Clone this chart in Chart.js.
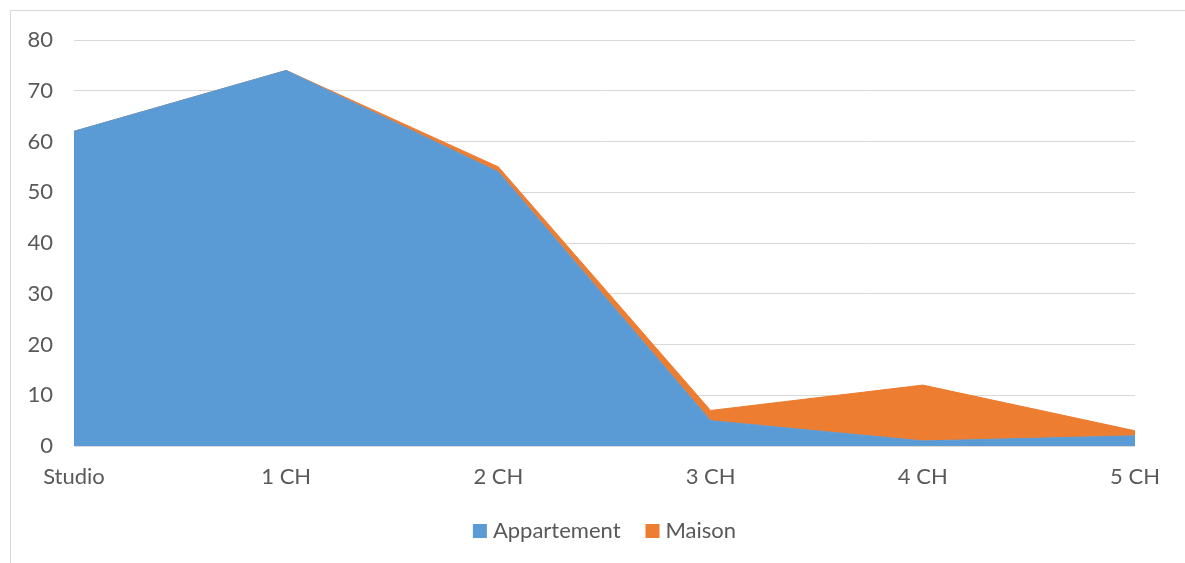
<!DOCTYPE html>
<html>
<head>
<meta charset="utf-8">
<script src="https://cdn.jsdelivr.net/npm/chart.js@4.4.1/dist/chart.umd.min.js"></script>
<style>
  html, body { margin: 0; padding: 0; background: #fff; overflow: hidden; }
  #wrap { position: relative; width: 1185px; height: 563px; }
  #frame { position: absolute; left: 10px; top: 10px; width: 1200px; height: 600px; border: 1px solid #d9d9d9; box-sizing: border-box; }
  canvas { position: absolute; left: 0; top: 0; }
</style>
</head>
<body>
<div id="wrap">
  <div id="frame"></div>
  <canvas id="chart" width="1185" height="563"></canvas>
</div>
<script>
// Logements par nombre de chambres
const categories = ['Studio', '1 CH', '2 CH', '3 CH', '4 CH', '5 CH'];
const appartement = [62, 74, 54, 5, 1, 2];
const maison = [0, 0, 1, 2, 11, 1];
const yTicks = [0, 10, 20, 30, 40, 50, 60, 70, 80];

const FONT = 'Lato, "Open Sans", sans-serif';
const TEXT = '#595959';

// Legend centred under the plot area: square swatch, small gap, label
const plotLegend = {
  id: 'plotLegend',
  afterDraw(chart) {
    const ctx = chart.ctx;
    const area = chart.chartArea;
    const box = 14, gap = 6, itemGap = 25;
    ctx.save();
    ctx.font = '22px ' + FONT;
    const items = chart.data.datasets.map(ds => ({
      label: ds.label,
      color: ds.backgroundColor,
      w: ctx.measureText(ds.label).width
    }));
    const total = items.reduce((s, it) => s + box + gap + it.w, 0) + itemGap * (items.length - 1);
    let x = (area.left + area.right) / 2 - total / 2;
    const cy = 531;
    ctx.textBaseline = 'middle';
    ctx.textAlign = 'left';
    items.forEach(it => {
      ctx.fillStyle = it.color;
      ctx.fillRect(x, cy - box / 2, box, box);
      ctx.fillStyle = TEXT;
      ctx.fillText(it.label, x + box + gap, cy);
      x += box + gap + it.w + itemGap;
    });
    ctx.restore();
  }
};

new Chart(document.getElementById('chart'), {
  type: 'line',
  data: {
    labels: categories,
    datasets: [
      {
        label: 'Appartement',
        data: appartement,
        backgroundColor: '#5B9BD5',
        borderColor: '#5B9BD5',
        borderWidth: 1,
        fill: 'origin',
        pointRadius: 0,
        tension: 0
      },
      {
        label: 'Maison',
        data: maison,
        backgroundColor: '#ED7D31',
        borderColor: '#ED7D31',
        borderWidth: 1,
        fill: '-1',
        pointRadius: 0,
        tension: 0
      }
    ]
  },
  plugins: [plotLegend],
  options: {
    responsive: false,
    animation: false,
    layout: { padding: { left: 0, right: 50, top: 40, bottom: 53 } },
    plugins: {
      tooltip: { enabled: false },
      legend: { display: false }
    },
    scales: {
      x: {
        offset: false,
        grid: { display: false, drawTicks: false },
        border: { display: false },
        ticks: {
          color: TEXT,
          font: { family: FONT, size: 22 },
          padding: 18,
          maxRotation: 0,
          autoSkip: false
        },
        afterFit: (s) => { s.height = 64; }
      },
      y: {
        stacked: true,
        min: 0,
        max: 80,
        afterBuildTicks: (s) => { s.ticks = yTicks.map(v => ({ value: v })); },
        grid: { color: '#d9d9d9', lineWidth: 1, drawTicks: false },
        border: { display: false },
        ticks: {
          color: TEXT,
          font: { family: FONT, size: 22 },
          padding: 21
        },
        afterFit: (s) => { s.width = 74; }
      }
    }
  }
});
</script>
</body>
</html>
